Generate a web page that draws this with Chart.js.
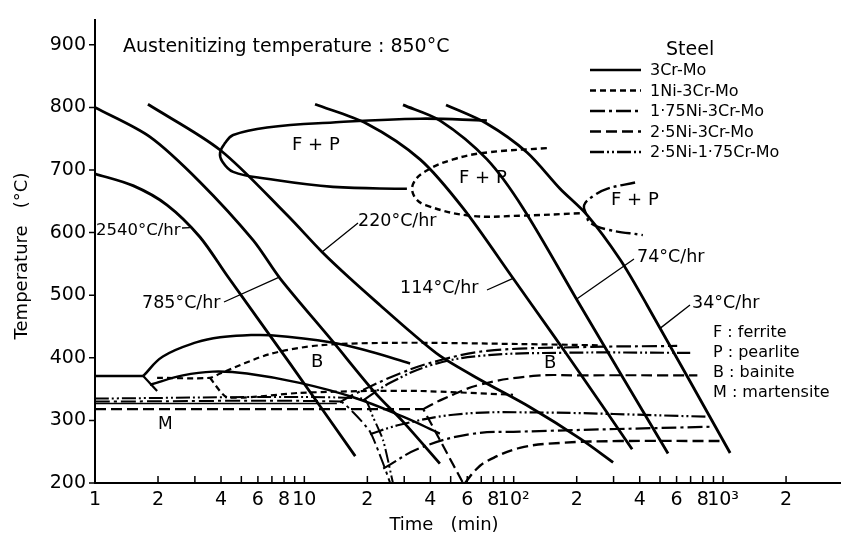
<!DOCTYPE html>
<html>
<head>
<meta charset="utf-8">
<script src="https://cdn.jsdelivr.net/npm/chart.js@4.4.1/dist/chart.umd.min.js"></script>
<style>
  html, body { margin: 0; padding: 0; background: #fff; }
  #wrap { width: 841px; height: 545px; }
</style>
</head>
<body>
<div id="wrap"><canvas id="cct"></canvas></div>
<script>
// all curves are [time (min), temperature (°C)]

// cooling curves
const cool2540 = [[1,694],[1.52,675],[2.21,644],[3.17,593],[4.28,531],[8.53,391],[17.5,243]];
const cool785 = [[1,800],[1.83,753],[3.17,681],[5.69,588],[7.65,527],[13.6,427],[21.8,344],[29.6,298],[44.4,231]];
const cool220 = [[1.79,805],[3.96,732],[8.27,628],[12.15,569],[16.5,527],[23,484],[32,442],[44.5,403],[69.1,365],[119.8,321],[207.6,271],[298.5,233]];
const cool114 = [[11.25,805],[19.9,774],[35.7,717],[57.3,639],[99.3,527],[154,437],[207.6,375],[368,254]];
const cool74 = [[29.6,804],[44.5,779],[74.6,717],[110.9,639],[207.6,484],[546,247]];
const cool34 = [[47.5,804],[74.6,774],[115.9,728],[166.6,670],[224.3,628],[322.3,557],[433.8,484],[1081,248]];

// ferrite + pearlite regions
const fp3Cr = [[30.9,670],[13.7,673],[6.63,686],[4.57,697],[4.05,714],[3.96,728],[4.18,743],[4.57,756],[6.63,768],[13.7,776],[35.8,782],[74.5,779]];
const fp1Ni = [[144,735],[74.5,728],[51.4,717],[37.9,698],[33.1,678],[33.5,658],[37.9,644],[61.9,627],[107,627],[207,631]];
const fp175Ni = [[380,680],[279,670],[241,659],[217,644],[223,628],[231,616],[279,605],[414,596]];

// 3Cr-Mo bainite / martensite
const ms3CrTop = [[1,371],[1.70,371]];
const bs3Cr = [[1.70,371],[2.11,402],[3.07,425],[3.96,433],[5.32,436],[6.85,436],[13.3,425],[20.6,410],[32,391]];
const spur3Cr = [[1.70,371],[1.98,347]];
const bf3Cr = [[1.83,357],[2.63,372],[3.66,378],[5.32,375],[9.5,360],[17.1,337],[29.6,306],[44.4,279]];
const ms3Cr = [[1,327],[14.3,327]];

// 1Ni-3Cr-Mo
const bs1Ni = [[1.98,368],[3.54,368],[3.96,375],[6.85,406],[11.9,420],[28.6,424],[107,422],[258,420]];
const bf1Ni = [[3.54,368],[4.28,337],[9.5,344],[19.9,347],[35.8,347],[99.3,341]];

// 1·75Ni-3Cr-Mo
const ms175Ni = [[1,330],[14.8,330],[17.1,313],[20.6,282],[23.8,231],[25.7,200]];
const bs175Ni = [[14.8,329],[17.1,341],[28.6,375],[44.4,396],[74.5,411],[207,417],[604,419]];
const bf175Ni = [[23.8,223],[35.8,256],[61.9,278],[107,282],[900,290]];

// 2·5Ni-3Cr-Mo
const ms25Ni = [[1,318],[37,318],[57.3,200]];
const bs25Ni = [[37,318],[45.9,334],[69,357],[124,371],[207,372],[754,372]];
const bf25Ni = [[58.6,200],[65.4,220],[74.5,235],[107,256],[166,264],[321,267],[1005,267]];

// 2·5Ni-1·75Cr-Mo
const ms2517 = [[1,335],[19.1,335],[21.3,305],[23.8,268],[26.5,200]];
const bs2517 = [[19.1,332],[25.7,360],[40.1,388],[69,403],[166,408],[697,408]];
const bf2517 = [[20.6,278],[28.6,293],[51.4,309],[107,313],[842,306]];

const steels = ['3Cr-Mo', '1Ni-3Cr-Mo', '1·75Ni-3Cr-Mo', '2·5Ni-3Cr-Mo', '2·5Ni-1·75Cr-Mo'];
const steelDash = [[], [6, 4], [15, 4, 3, 4], [11, 5], [14, 3, 2, 3, 2, 3]];

const timeTicks = [1, 2, 4, 6, 8, 10, 20, 40, 60, 80, 100, 200, 400, 600, 800, 1000, 2000];
const timeTickLabels = ['1', '2', '4', '6', '8', '10', '2', '4', '6', '8', '10²', '2', '4', '6', '8', '10³', '2'];
const timeMinor = [3, 5, 7, 9, 30, 50, 70, 90, 300, 500, 700, 900];
const tempTicks = [200, 300, 400, 500, 600, 700, 800, 900];

const FONT = '"DejaVu Sans", sans-serif';

// [data, steel index, line width, tension]
const curves = [
  [cool2540, 0, 2.8, 0.3], [cool785, 0, 2.8, 0.3], [cool220, 0, 2.8, 0.3],
  [cool114, 0, 2.8, 0.3], [cool74, 0, 2.8, 0.3], [cool34, 0, 2.8, 0.3],
  [fp3Cr, 0, 2.6, 0.4], [fp1Ni, 1, 2.4, 0.4], [fp175Ni, 2, 2.4, 0.4],
  [ms3CrTop, 0, 2.4, 0], [bs3Cr, 0, 2.5, 0.4], [spur3Cr, 0, 2.2, 0],
  [bf3Cr, 0, 2.4, 0.4], [ms3Cr, 0, 1.6, 0],
  [bs1Ni, 1, 2.2, 0.3], [bf1Ni, 1, 2.2, 0.2],
  [ms175Ni, 2, 2.0, 0.2], [bs175Ni, 2, 2.2, 0.4], [bf175Ni, 2, 2.2, 0.4],
  [ms25Ni, 3, 2.2, 0], [bs25Ni, 3, 2.2, 0.4], [bf25Ni, 3, 2.4, 0.4],
  [ms2517, 4, 2.0, 0.2], [bs2517, 4, 2.2, 0.4], [bf2517, 4, 2.2, 0.4]
];

const datasets = curves.map(([pts, steel, w, t]) => ({
  data: pts.map(p => ({ x: p[0], y: p[1] })),
  showLine: true,
  borderColor: '#000',
  borderWidth: w,
  borderDash: steelDash[steel],
  tension: t,
  pointRadius: 0,
  fill: false
}));

// text on the diagram, [text, x, y, size]
const labels = [
  ['Austenitizing temperature : 850°C', 123, 47, 19],
  ['Steel', 666, 50, 19],
  ['F + P', 292, 145, 18],
  ['F + P', 459, 178, 18],
  ['F + P', 611, 200, 18],
  ['2540°C/hr', 96, 231, 16.5],
  ['785°C/hr', 142, 303, 17.5],
  ['220°C/hr', 358, 221, 17.5],
  ['114°C/hr', 400, 288, 17.5],
  ['74°C/hr', 637, 257, 17.5],
  ['34°C/hr', 692, 303, 17.5],
  ['B', 311, 362, 18],
  ['B', 544, 363, 18],
  ['M', 158, 425, 17],
  ['F : ferrite', 713, 333, 16],
  ['P : pearlite', 713, 353, 16],
  ['B : bainite', 713, 373, 16],
  ['M : martensite', 713, 393, 16]
];

// leader lines from a rate label to its cooling curve: [x0, y0, time, temp]
const leaders = [
  [182, 228, 2.84, 608],
  [224, 302, 7.5, 528],
  [358, 223, 12.15, 569],
  [487, 290, 99.3, 527],
  [634, 259, 200, 494],
  [690, 305, 500, 447]
];

const decorations = {
  id: 'decorations',
  afterDraw(chart) {
    const { ctx, scales: { x, y } } = chart;
    ctx.save();
    ctx.strokeStyle = '#000';
    ctx.fillStyle = '#000';
    ctx.setLineDash([]);

    // inward time ticks, outward temperature ticks
    ctx.lineWidth = 1.5;
    ctx.beginPath();
    timeTicks.concat(timeMinor).forEach(v => {
      const px = x.getPixelForValue(v);
      ctx.moveTo(px, y.bottom);
      ctx.lineTo(px, y.bottom - 7);
    });
    tempTicks.forEach(v => {
      const py = y.getPixelForValue(v);
      ctx.moveTo(x.left - 6, py);
      ctx.lineTo(x.left, py);
    });
    ctx.stroke();

    // leaders
    ctx.lineWidth = 1.3;
    ctx.beginPath();
    leaders.forEach(([x0, y0, t, T]) => {
      ctx.moveTo(x0, y0);
      ctx.lineTo(x.getPixelForValue(t), y.getPixelForValue(T));
    });
    ctx.stroke();

    // steel legend
    steels.forEach((s, i) => {
      const ly = 70 + i * 20.5;
      ctx.lineWidth = 2.6;
      ctx.setLineDash(steelDash[i]);
      ctx.beginPath();
      ctx.moveTo(590, ly);
      ctx.lineTo(641, ly);
      ctx.stroke();
      ctx.setLineDash([]);
      ctx.font = '16px ' + FONT;
      ctx.textAlign = 'left';
      ctx.textBaseline = 'middle';
      ctx.fillText(s, 650, ly + 1);
    });

    labels.forEach(([t, lx, ly, size]) => {
      ctx.font = size + 'px ' + FONT;
      ctx.textAlign = 'left';
      ctx.textBaseline = 'middle';
      ctx.fillText(t, lx, ly);
    });

    // axis titles
    ctx.font = '18px ' + FONT;
    ctx.textAlign = 'center';
    ctx.textBaseline = 'middle';
    ctx.fillText('Time   (min)', 444, 525);
    ctx.translate(22, 256);
    ctx.rotate(-Math.PI / 2);
    ctx.fillText('Temperature   (°C)', 0, 0);
    ctx.restore();
  }
};

new Chart(document.getElementById('cct'), {
  type: 'scatter',
  data: { datasets },
  options: {
    responsive: true,
    maintainAspectRatio: false,
    animation: false,
    devicePixelRatio: 1,
    layout: { padding: { top: 7, right: 0, left: 0, bottom: 0 } },
    plugins: { legend: { display: false }, tooltip: { enabled: false } },
    scales: {
      x: {
        type: 'logarithmic',
        min: 1,
        max: 3660,
        afterFit(s) { s.height = 62; },
        afterBuildTicks(s) { s.ticks = timeTicks.map(v => ({ value: v })); },
        grid: { display: false, drawTicks: false },
        border: { display: true, color: '#000', width: 2 },
        ticks: {
          autoSkip: false,
          maxRotation: 0,
          padding: 6,
          color: '#000',
          font: { family: FONT, size: 19 },
          callback(v) {
            const i = timeTicks.indexOf(v);
            return i >= 0 ? timeTickLabels[i] : '';
          }
        }
      },
      y: {
        type: 'linear',
        min: 200,
        max: 939,
        afterFit(s) { s.width = 95; },
        afterBuildTicks(s) { s.ticks = tempTicks.map(v => ({ value: v })); },
        grid: { display: false, drawTicks: false },
        border: { display: true, color: '#000', width: 2 },
        ticks: { padding: 9, color: '#000', font: { family: FONT, size: 19 } }
      }
    }
  },
  plugins: [decorations]
});
</script>
</body>
</html>
